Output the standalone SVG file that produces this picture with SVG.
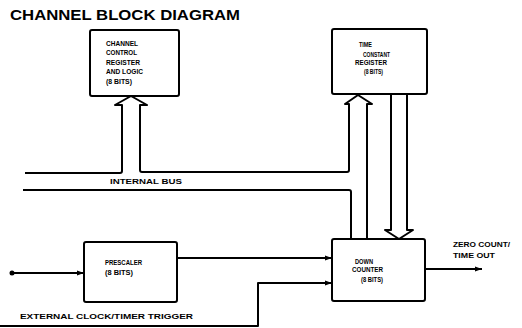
<svg xmlns="http://www.w3.org/2000/svg" width="522" height="328" viewBox="0 0 522 328">
<defs>
<style>
.box{fill:#fff;stroke:#000;stroke-width:2}
.ln{fill:none;stroke:#000;stroke-width:2;stroke-linejoin:round}
.t{font-family:"Liberation Sans",Arial,sans-serif;font-weight:bold;font-size:6.5px;fill:#000}
.title{font-family:"Liberation Sans",Arial,sans-serif;font-weight:bold;font-size:14px;fill:#000}
</style>
<marker id="ah" markerWidth="8" markerHeight="6" refX="7" refY="3" orient="auto" markerUnits="userSpaceOnUse">
<path d="M0,0.5 L7,3 L0,5.5 Z" fill="#000"/>
</marker>
</defs>
<rect width="522" height="328" fill="#fff"/>
<text class="title" x="10" y="20" textLength="230" lengthAdjust="spacingAndGlyphs">CHANNEL BLOCK DIAGRAM</text>

<g id="connectors">
<circle cx="12" cy="273" r="2.5" fill="#000"/>
<path class="ln" d="M12,273 H84" marker-end="url(#ah)"/>
<path class="ln" d="M177,258 H332" marker-end="url(#ah)"/>
<path class="ln" d="M0,326 H258 V283 H332" marker-end="url(#ah)"/>
<path class="ln" d="M425,269 H482" marker-end="url(#ah)"/>
<path class="ln" d="M25,173 H120 Q122,173 122,171 V105 H115 L131,96 L147,105 H140 V170 Q140,172 142,172 H347 Q349,172 349,170 V104 H345 L358,95 L372,104 H367 V239"/>
<path class="ln" d="M23,190 H349 Q351,190 351,192 V239"/>
<path class="ln" d="M391,94 V230 H385 L399,239 L413,230 H407 V94"/>
<text class="t" x="110" y="184" textLength="72" lengthAdjust="spacingAndGlyphs">INTERNAL BUS</text>
<text class="t" x="20" y="319" textLength="173" lengthAdjust="spacingAndGlyphs">EXTERNAL CLOCK/TIMER TRIGGER</text>
<text class="t" x="453" y="247" textLength="57" lengthAdjust="spacingAndGlyphs">ZERO COUNT/</text>
<text class="t" x="453" y="258" textLength="42" lengthAdjust="spacingAndGlyphs">TIME OUT</text>
</g>

<g id="channel-control">
<rect class="box" x="90" y="30" width="89" height="66" rx="2"/>
<text class="t" x="106" y="46" textLength="32" lengthAdjust="spacingAndGlyphs">CHANNEL</text>
<text class="t" x="106" y="55" textLength="31" lengthAdjust="spacingAndGlyphs">CONTROL</text>
<text class="t" x="106" y="65" textLength="34" lengthAdjust="spacingAndGlyphs">REGISTER</text>
<text class="t" x="106" y="74" textLength="37" lengthAdjust="spacingAndGlyphs">AND LOGIC</text>
<text class="t" x="106" y="84" textLength="26" lengthAdjust="spacingAndGlyphs">(8 BITS)</text>
</g>

<g id="time-constant">
<rect class="box" x="332" y="29" width="95" height="65" rx="2"/>
<text class="t" x="359" y="47" textLength="13" lengthAdjust="spacingAndGlyphs">TIME</text>
<text class="t" x="363" y="57" textLength="27" lengthAdjust="spacingAndGlyphs">CONSTANT</text>
<text class="t" x="355" y="65" textLength="32" lengthAdjust="spacingAndGlyphs">REGISTER</text>
<text class="t" x="364" y="74" textLength="19" lengthAdjust="spacingAndGlyphs">(8 BITS)</text>
</g>

<g id="prescaler">
<rect class="box" x="84" y="242" width="93" height="60" rx="2"/>
<text class="t" x="105" y="265" textLength="37" lengthAdjust="spacingAndGlyphs">PRESCALER</text>
<text class="t" x="105" y="275" textLength="28" lengthAdjust="spacingAndGlyphs">(8 BITS)</text>
</g>

<g id="down-counter">
<rect class="box" x="332" y="239" width="93" height="62" rx="2"/>
<text class="t" x="355" y="264" textLength="18" lengthAdjust="spacingAndGlyphs">DOWN</text>
<text class="t" x="352" y="272" textLength="31" lengthAdjust="spacingAndGlyphs">COUNTER</text>
<text class="t" x="361" y="282" textLength="22" lengthAdjust="spacingAndGlyphs">(8 BITS)</text>
</g>
</svg>
